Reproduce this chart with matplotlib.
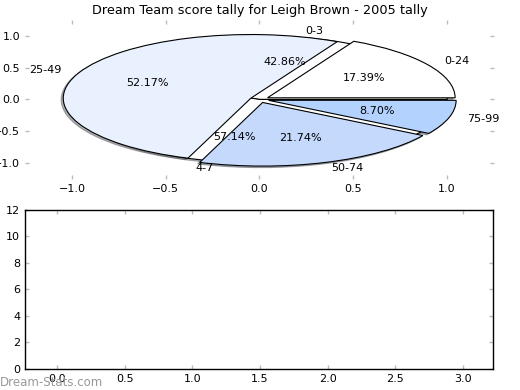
import matplotlib
matplotlib.use('Agg')
import matplotlib.pyplot as plt

# score bands and their share of the tally
outer_labels = ['0-24', '25-49', '50-74', '75-99']
outer_sizes = [17.39, 52.17, 21.74, 8.70]
outer_colors = ['#ffffff', '#eaf1fe', '#c5d9fd', '#b3d3fe']

inner_labels = ['0-3', '4-7']
inner_sizes = [42.86, 57.14]

title = 'Dream Team score tally for Leigh Brown - 2005 tally'

fig = plt.figure(figsize=(5.2, 3.9), dpi=100)

edge = {'edgecolor': 'black', 'linewidth': 0.8}
shadow = {'ox': -0.008, 'oy': -0.017, 'shade': 0.6}

# top: pie chart (drawn on stretched axes, so it comes out as an ellipse)
ax1 = fig.add_axes([0.048, 0.541, 0.902, 0.408])
ax1.pie(inner_sizes, labels=inner_labels, colors=['#ffffff', '#ffffff'],
        autopct='%1.2f%%', shadow=shadow, frame=True,
        wedgeprops=edge, textprops={'fontsize': 8})
ax1.pie(outer_sizes, labels=outer_labels, colors=outer_colors,
        explode=[0.05] * 4, autopct='%1.2f%%', shadow=shadow, frame=True,
        wedgeprops=edge, textprops={'fontsize': 8})
ax1.set_aspect('auto')
ax1.set_xlim(-1.25, 1.25)
ax1.set_ylim(-1.25, 1.25)
ax1.set_xticks([-1.0, -0.5, 0.0, 0.5, 1.0])
ax1.set_yticks([-1.0, -0.5, 0.0, 0.5, 1.0])
for s in ax1.spines.values():
    s.set_visible(False)
ax1.tick_params(direction='in', top=True, right=True, color='#bbbbbb',
                length=3, width=1, labelsize=8)
ax1.set_title(title, fontsize=9.25, pad=4)

# bottom: empty axes
ax2 = fig.add_axes([0.048, 0.054, 0.9, 0.408])
ax2.set_xlim(-0.237, 3.22)
ax2.set_ylim(0, 12)
ax2.set_xticks([0.0, 0.5, 1.0, 1.5, 2.0, 2.5, 3.0])
ax2.set_yticks([0, 2, 4, 6, 8, 10, 12])
ax2.tick_params(direction='in', top=True, right=True, color='#bbbbbb',
                length=3, width=1, labelsize=8)
for s in ax2.spines.values():
    s.set_linewidth(1)

fig.text(0.0, 0.01, 'Dream-Stats.com', fontsize=8.5, color='#999999')

fig.savefig('out.png', dpi=100)
